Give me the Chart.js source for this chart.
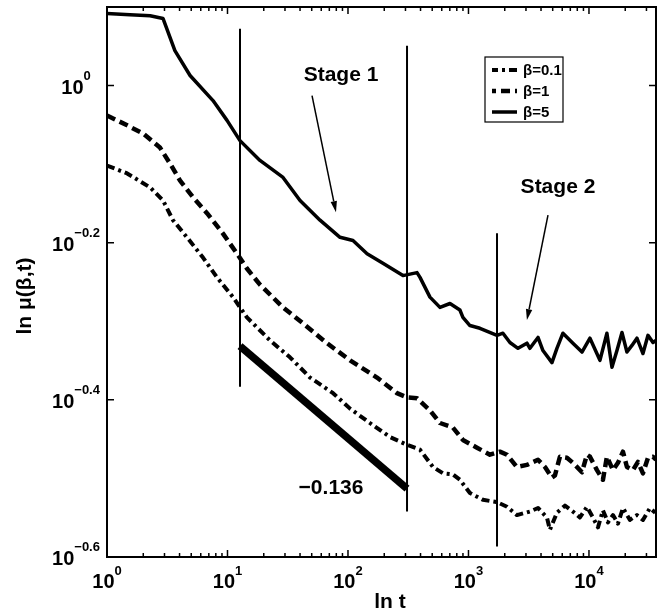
<!DOCTYPE html>
<html lang="en">
<head>
<meta charset="UTF-8">
<title>ln mu(beta,t) against ln t</title>
<script src="https://cdn.jsdelivr.net/npm/chart.js"></script>
<style>
  body { margin: 0; padding: 0; background: #fff; }
  #wrap { width: 664px; height: 616px; position: relative; }
</style>
</head>
<body>
<div id="wrap"><canvas id="chart"></canvas></div>
<script>
// beta = 5 (solid)
const t5 = [1, 1.55, 2.28, 2.92, 3.66, 4.89, 7.58, 9.91, 12.7, 18.6, 28.9, 40.0, 58.6, 85.9, 110, 144, 195, 286, 374, 396,
  479, 580, 702, 849, 899, 1028, 1245, 1725, 1932, 2208, 2576, 3055, 3236, 3776, 4150, 4930, 5420, 6080, 7360, 8750,
  10190, 12330, 14090, 15520, 17070, 18790, 20660, 22740, 25010, 28060, 30890, 33980, 36000];
const mu5 = [1.235, 1.231, 1.227, 1.217, 1.108, 1.030, 0.957, 0.903, 0.851, 0.803, 0.764, 0.714, 0.674, 0.641, 0.635, 0.611, 0.594, 0.573, 0.578, 0.570,
  0.538, 0.522, 0.528, 0.518, 0.507, 0.495, 0.491, 0.481, 0.484, 0.471, 0.463, 0.470, 0.463, 0.478, 0.460, 0.444, 0.463, 0.484, 0.470, 0.458,
  0.477, 0.447, 0.484, 0.438, 0.460, 0.485, 0.458, 0.467, 0.477, 0.456, 0.481, 0.471, 0.474];

// beta = 1 (dashed)
const t1 = [1, 1.47, 1.99, 2.75, 3.33, 4.04, 5.17, 6.76, 9.18, 12.0, 14.5, 18.6, 28.9, 42.4, 67.0, 104, 174, 255, 309, 374,
  479, 580, 743, 899, 1177, 1507, 1824, 2088, 2524, 3055, 3776, 4315, 4930, 5220, 5740, 6560, 7360, 8750, 9620, 10190,
  11650, 13060, 14090, 15820, 17400, 19150, 20660, 23180, 25510, 28060, 30890, 33980, 36000];
const mu1 = [0.916, 0.890, 0.869, 0.834, 0.796, 0.757, 0.721, 0.688, 0.648, 0.611, 0.585, 0.558, 0.522, 0.498, 0.470, 0.447, 0.425, 0.406, 0.401, 0.400,
  0.386, 0.372, 0.367, 0.354, 0.346, 0.339, 0.342, 0.339, 0.327, 0.329, 0.334, 0.327, 0.317, 0.319, 0.337, 0.336, 0.331, 0.322, 0.339, 0.337,
  0.324, 0.315, 0.337, 0.324, 0.331, 0.342, 0.327, 0.324, 0.332, 0.321, 0.336, 0.337, 0.334];

// beta = 0.1 (dash-dot)
const t01 = [1, 1.47, 2.28, 2.92, 3.53, 4.61, 6.26, 8.18, 11.1, 14.5, 22.5, 33.0, 48.4, 75.2, 104, 152, 223, 309, 396, 507,
  614, 743, 849, 1028, 1318, 1725, 2088, 2524, 3236, 3776, 4480, 4743, 5420, 6320, 7360, 8410, 9620, 10790, 11880, 13060,
  14380, 15820, 17400, 19150, 21880, 25010, 28060, 32080, 35500];
const mu01 = [0.791, 0.773, 0.742, 0.714, 0.674, 0.641, 0.604, 0.570, 0.538, 0.507, 0.474, 0.451, 0.425, 0.406, 0.388, 0.372, 0.357, 0.349, 0.344, 0.327,
  0.321, 0.320, 0.315, 0.303, 0.297, 0.295, 0.291, 0.284, 0.287, 0.290, 0.282, 0.272, 0.286, 0.292, 0.287, 0.282, 0.291, 0.282, 0.274, 0.288,
  0.278, 0.284, 0.277, 0.290, 0.280, 0.284, 0.280, 0.290, 0.286];

// stage boundary markers
const stageT = [12.7, 309, 1725];
const stageMuLow = [0.4136, 0.287, 0.259];
const stageMuHigh = [1.181, 1.124, 0.6486];

// fitted slope segment
const fitT = [12.7, 309];
const fitMu = [0.466, 0.307];

// ticks
const xTicks = [1, 10, 100, 1000, 10000];
const xTickExp = ['0', '1', '2', '3', '4'];
const yTicks = [1, 0.63096, 0.39811, 0.25119];
const yTickExp = ['0', '\u22120.2', '\u22120.4', '\u22120.6'];

// annotations (data coordinates)
const notes = [
  { text: 'Stage 1', t: 87.5, mu: 1.030, from: [50.3, 0.971], to: [79.5, 0.690] },
  { text: 'Stage 2', t: 5530, mu: 0.742, from: [4570, 0.684], to: [3055, 0.503] },
  { text: '\u22120.136', t: 72.3, mu: 0.307 }
];

const legendItems = ['\u03b2=0.1', '\u03b2=1', '\u03b2=5'];
const dashDot = [8, 4, 3, 4];
const dashed = [9, 5];

const FONT = "'Liberation Sans', Arial, Helvetica, sans-serif";

function pts(xs, ys) {
  return xs.map((v, i) => ({ x: v, y: ys[i] }));
}

const datasets = [
  { data: pts(t01, mu01), borderWidth: 4, borderDash: dashDot },
  { data: pts(t1, mu1), borderWidth: 4.5, borderDash: dashed },
  { data: pts(t5, mu5), borderWidth: 3.5 }
];
stageT.forEach((v, i) => {
  datasets.push({ data: [{ x: v, y: stageMuLow[i] }, { x: v, y: stageMuHigh[i] }], borderWidth: 2 });
});
datasets.push({ data: pts(fitT, fitMu), borderWidth: 7.5 });
datasets.forEach(d => {
  d.showLine = true;
  d.pointRadius = 0;
  d.borderColor = '#000';
  d.borderJoinStyle = 'round';
  d.tension = 0;
});

function arrow(ctx, x0, y0, x1, y1) {
  const ang = Math.atan2(y1 - y0, x1 - x0);
  const len = 11, half = 3.2;
  ctx.beginPath();
  ctx.moveTo(x0, y0);
  ctx.lineTo(x1 - len * Math.cos(ang), y1 - len * Math.sin(ang));
  ctx.lineWidth = 1.5;
  ctx.stroke();
  ctx.beginPath();
  ctx.moveTo(x1, y1);
  ctx.lineTo(x1 - len * Math.cos(ang) + half * Math.sin(ang), y1 - len * Math.sin(ang) - half * Math.cos(ang));
  ctx.lineTo(x1 - len * Math.cos(ang) - half * Math.sin(ang), y1 - len * Math.sin(ang) + half * Math.cos(ang));
  ctx.closePath();
  ctx.fill();
}

function powerLabel(ctx, exp, cx, baseY, expY) {
  ctx.font = 'bold 20px ' + FONT;
  const wb = ctx.measureText('10').width;
  ctx.font = 'bold 13px ' + FONT;
  const we = ctx.measureText(exp).width;
  const x0 = cx - (wb + we) / 2;
  ctx.textAlign = 'left';
  ctx.textBaseline = 'alphabetic';
  ctx.font = 'bold 20px ' + FONT;
  ctx.fillText('10', x0, baseY);
  ctx.font = 'bold 13px ' + FONT;
  ctx.fillText(exp, x0 + wb, expY);
}

const decor = {
  id: 'decor',
  afterDatasetsDraw(chart) {
    const { ctx, chartArea: a, scales: { x, y } } = chart;
    ctx.save();
    ctx.strokeStyle = '#000';
    ctx.fillStyle = '#000';

    // box
    ctx.lineWidth = 2;
    ctx.strokeRect(a.left, a.top, a.right - a.left, a.bottom - a.top);

    // inner ticks
    ctx.lineWidth = 1.5;
    ctx.beginPath();
    for (let d = 1; d <= 10000; d *= 10) {
      for (let m = 1; m < 10; m++) {
        const v = d * m;
        if (v > x.max) break;
        const px = x.getPixelForValue(v);
        const len = m === 1 ? 7 : 4;
        ctx.moveTo(px, a.bottom); ctx.lineTo(px, a.bottom - len);
        ctx.moveTo(px, a.top); ctx.lineTo(px, a.top + len);
      }
    }
    yTicks.forEach(v => {
      const py = y.getPixelForValue(v);
      ctx.moveTo(a.left, py); ctx.lineTo(a.left + 7, py);
      ctx.moveTo(a.right, py); ctx.lineTo(a.right - 7, py);
    });
    ctx.stroke();

    // tick labels
    xTicks.forEach((v, i) => {
      const px = x.getPixelForValue(v);
      powerLabel(ctx, xTickExp[i], px, a.bottom + 31, a.bottom + 18);
    });
    yTicks.forEach((v, i) => {
      const py = y.getPixelForValue(v);
      powerLabel(ctx, yTickExp[i], 76, py + 8, py - 6);
    });

    // axis titles
    ctx.font = 'bold 21px ' + FONT;
    ctx.textAlign = 'center';
    ctx.textBaseline = 'middle';
    ctx.fillText('ln t', 390, a.bottom + 45);
    ctx.save();
    ctx.translate(25, 296);
    ctx.rotate(-Math.PI / 2);
    ctx.fillText('ln \u03bc(\u03b2,t)', 0, 0);
    ctx.restore();

    // annotations
    notes.forEach(n => {
      ctx.font = 'bold 21px ' + FONT;
      ctx.textAlign = 'center';
      ctx.textBaseline = 'middle';
      ctx.fillText(n.text, x.getPixelForValue(n.t), y.getPixelForValue(n.mu));
      if (n.from) {
        arrow(ctx, x.getPixelForValue(n.from[0]), y.getPixelForValue(n.from[1]),
          x.getPixelForValue(n.to[0]), y.getPixelForValue(n.to[1]));
      }
    });

    // legend
    const lx = a.left + 378, ly = a.top + 50, lw = 78, lh = 65;
    ctx.fillStyle = '#fff';
    ctx.fillRect(lx, ly, lw, lh);
    ctx.fillStyle = '#000';
    const styles = [[4, dashDot, 2], [4.5, dashed, 5], [3.5, [], 0]];
    legendItems.forEach((txt, i) => {
      const yy = ly + 13 + i * 21;
      ctx.beginPath();
      ctx.lineWidth = styles[i][0];
      ctx.setLineDash(styles[i][1]);
      ctx.lineDashOffset = styles[i][2];
      ctx.moveTo(lx + 7, yy);
      ctx.lineTo(lx + 32, yy);
      ctx.stroke();
      ctx.setLineDash([]);
      ctx.font = 'bold 15px ' + FONT;
      ctx.textAlign = 'left';
      ctx.textBaseline = 'middle';
      ctx.fillText(txt, lx + 38, yy + 1);
    });
    ctx.lineWidth = 1.2;
    ctx.strokeRect(lx, ly, lw, lh);

    ctx.restore();
  }
};

new Chart(document.getElementById('chart'), {
  type: 'scatter',
  data: { datasets: datasets },
  options: {
    responsive: true,
    maintainAspectRatio: false,
    animation: false,
    layout: { padding: { left: 107, right: 8, top: 7, bottom: 59 } },
    plugins: { legend: { display: false }, tooltip: { enabled: false } },
    scales: {
      x: { type: 'logarithmic', display: false, min: 1, max: 36000 },
      y: { type: 'logarithmic', display: false, min: 0.25119, max: 1.2589 }
    }
  },
  plugins: [decor]
});
</script>
</body>
</html>
